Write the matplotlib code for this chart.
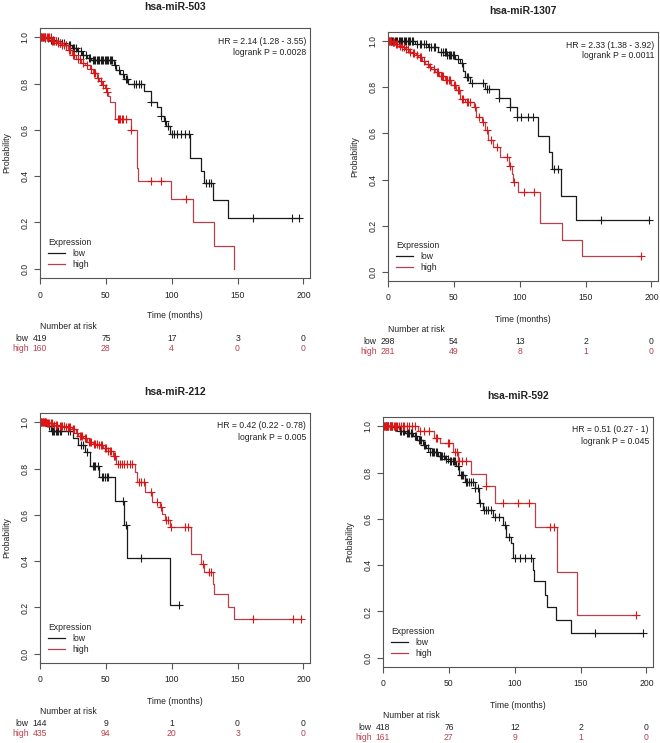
import numpy as np
import matplotlib.pyplot as plt
from matplotlib.transforms import blended_transform_factory

plt.rcParams['font.family'] = ['Liberation Sans', 'DejaVu Sans']

# ---- data: event times, survival after each event, censor times
p1_low_t = [3, 7, 11, 15, 19, 24, 28, 32, 36, 39, 56, 58, 61, 64, 67, 79, 84, 89, 92, 94, 96, 99, 114, 122, 124.5, 131.5, 143]
p1_low_s = [0.995, 0.99, 0.985, 0.975, 0.965, 0.955, 0.94, 0.925, 0.91, 0.90, 0.88, 0.86, 0.84, 0.82, 0.80, 0.77, 0.72, 0.70, 0.66, 0.64, 0.615, 0.58, 0.48, 0.424, 0.37, 0.295, 0.22]
p1_low_c = [4, 6, 8, 10, 12, 14, 15, 17, 18, 20, 22, 23, 25, 26, 27, 29, 31, 33, 35, 37, 38, 40, 41, 42, 43, 44, 45, 46, 47, 48, 49,
            50, 51, 52, 53, 54, 55, 57, 60, 63, 65, 66, 71, 73, 75, 77, 84, 92, 95, 97, 100, 102, 104, 107, 110, 113, 126, 128, 130,
            161.5, 191.5, 197]
p1_high_t = [8.6, 13, 16, 21, 24, 27, 31, 34, 38, 40, 43, 45, 47, 49, 50.5, 52, 53, 57, 69, 73.5, 74.5, 99.4, 116, 132, 147]
p1_high_s = [0.985, 0.975, 0.965, 0.945, 0.925, 0.905, 0.89, 0.88, 0.865, 0.845, 0.825, 0.81, 0.795, 0.78, 0.765, 0.745, 0.72,
             0.645, 0.60, 0.435, 0.378, 0.303, 0.203, 0.10, 0.0]
p1_high_c = [0.5, 1, 1.5, 2, 2.5, 3, 3.5, 4, 5, 6, 7, 8, 9, 10, 11, 12, 14, 15, 17, 18, 20, 22, 23, 25, 26, 29, 30, 33, 36, 39, 41,
             42, 44, 46, 48, 50, 51, 59, 60, 61, 62, 63, 65, 69, 84, 92, 111]

p2_low_t = [20.5, 30.7, 38, 45, 51, 55, 57, 58.6, 62, 74, 84, 93, 98, 114, 122, 124.5, 131, 143]
p2_low_s = [0.988, 0.975, 0.955, 0.94, 0.925, 0.905, 0.87, 0.845, 0.82, 0.794, 0.753, 0.714, 0.67, 0.59, 0.52, 0.447, 0.33, 0.224]
p2_low_c = [2, 3, 4, 5, 6, 7, 8, 9, 10, 11, 12, 13, 14, 15, 16, 17, 18, 19, 22, 24, 25, 27, 29, 31, 33, 35, 36, 40, 42, 43, 44,
            45, 46, 47, 48, 49, 50, 53, 56, 60, 61, 64, 72, 75, 77, 84, 93, 98, 101, 106, 110, 126, 129, 162, 198]
p2_high_t = [3, 5, 8, 10, 13, 16, 18, 21, 23, 26, 28, 31, 33, 36, 39, 43, 48, 52, 55, 58.5, 65, 67, 71, 74, 76, 80, 85, 91.5, 94,
             95, 99, 115.6, 132, 147]
p2_high_s = [0.995, 0.99, 0.98, 0.975, 0.965, 0.955, 0.95, 0.94, 0.93, 0.915, 0.90, 0.89, 0.88, 0.866, 0.85, 0.83, 0.81, 0.79,
             0.75, 0.736, 0.714, 0.67, 0.65, 0.613, 0.57, 0.54, 0.50, 0.46, 0.426, 0.39, 0.346, 0.21, 0.137, 0.07]
p2_high_c = [0.5, 1, 1.5, 2, 2.5, 3.5, 4, 4.5, 6, 7, 9, 11, 12, 14, 15, 17, 19, 20, 22, 24, 25, 27, 30, 32, 35, 37, 38, 40, 41,
             42, 44, 45, 46, 47, 50, 51, 53, 54, 56, 57, 60, 61, 62, 66, 69, 72, 75, 78, 83, 90, 93, 96, 103, 111, 192]

p3_low_t = [6, 8.6, 25, 29, 34, 38, 45, 57, 64, 66.4, 99]
p3_low_s = [0.986, 0.964, 0.93, 0.90, 0.87, 0.81, 0.763, 0.662, 0.555, 0.415, 0.21]
p3_low_c = [7, 8, 9, 10, 11, 12, 13, 14, 15, 16, 21, 23, 31, 33, 36, 40, 41, 42, 44, 47, 48, 49, 51, 52, 63, 65.5, 76.5, 105.5]
p3_high_t = [5, 10, 14, 19, 24, 27, 29, 33, 36, 40, 44, 48, 51.7, 55.5, 58, 72, 74, 80, 85, 91, 93, 95, 99, 115, 122, 124.5,
             131.5, 132, 143, 147]
p3_high_s = [0.995, 0.99, 0.985, 0.98, 0.97, 0.955, 0.94, 0.93, 0.914, 0.905, 0.90, 0.89, 0.878, 0.856, 0.82, 0.785, 0.74, 0.70,
             0.655, 0.634, 0.605, 0.576, 0.547, 0.432, 0.389, 0.353, 0.30, 0.256, 0.203, 0.15]
p3_high_c = [0.5, 1, 1.5, 2, 2.5, 3, 3.5, 4, 4.5, 5.5, 6, 7, 8, 9, 11, 12, 13, 15, 16, 17, 18, 20, 21, 22, 23, 25, 26, 28, 30, 31,
             32, 34, 35, 37, 38, 39, 41, 42, 43, 45, 46, 47, 49, 50, 52, 53, 54, 56, 57, 59, 61, 62, 64, 66, 68, 70, 75, 77, 79,
             84, 89, 92, 96, 97, 99.5, 110, 112, 124, 128, 130, 161.5, 192, 198]

p4_low_t = [8, 12.7, 17, 23, 26, 30, 33, 35.5, 42, 47, 50.6, 55.7, 58, 62, 69.6, 73, 76, 83.5, 91, 93.7, 97.5, 98.7, 114, 115,
            123, 124.6, 131, 143]
p4_low_s = [0.995, 0.98, 0.97, 0.957, 0.94, 0.92, 0.905, 0.89, 0.873, 0.86, 0.848, 0.827, 0.79, 0.76, 0.733, 0.668, 0.64, 0.61,
            0.574, 0.523, 0.494, 0.43, 0.379, 0.332, 0.27, 0.22, 0.162, 0.107]
p4_low_c = [2, 3, 4, 5, 6, 7, 9, 10, 11, 13, 14, 15, 16, 18, 19, 20, 21, 22, 24, 25, 27, 28, 29, 31, 32, 34, 36, 37, 38, 39, 40,
            41, 43, 44, 45, 46, 48, 49, 51, 52, 53, 54, 55, 57, 59, 60, 61, 63, 64, 65, 67, 68, 70, 72, 74, 77, 78, 80, 82, 85,
            88, 93, 96, 100, 104, 108, 112, 161, 197.5]
p4_high_t = [26.6, 39, 43, 53, 57, 67, 78.5, 85, 115.7, 132, 147]
p4_high_s = [0.978, 0.95, 0.928, 0.89, 0.848, 0.795, 0.74, 0.67, 0.564, 0.371, 0.184]
p4_high_c = [0.5, 1, 1.5, 2, 2.5, 3, 4, 5, 6, 7, 8, 9, 10, 11, 12, 14, 15, 16, 18, 20, 22, 24, 28, 31, 35, 40, 41, 49, 50, 55,
             56, 58, 60, 63, 78.5, 91, 102.5, 111, 126.5, 129.5, 192]

titles = ['hsa-miR-503', 'hsa-miR-1307', 'hsa-miR-212', 'hsa-miR-592']
hr_text = ['HR = 2.14 (1.28 - 3.55)', 'HR = 2.33 (1.38 - 3.92)', 'HR = 0.42 (0.22 - 0.78)', 'HR = 0.51 (0.27 - 1)']
p_text = ['logrank P = 0.0028', 'logrank P = 0.0011', 'logrank P = 0.005', 'logrank P = 0.045']
risk_times = [0, 50, 100, 150, 200]
risk_low = [[419, 75, 17, 3, 0], [298, 54, 13, 2, 0], [144, 9, 1, 0, 0], [418, 76, 12, 2, 0]]
risk_high = [[160, 28, 4, 0, 0], [281, 49, 8, 1, 0], [435, 94, 20, 3, 0], [161, 27, 9, 1, 0]]

curves = [
    (p1_low_t, p1_low_s, p1_low_c, p1_high_t, p1_high_s, p1_high_c),
    (p2_low_t, p2_low_s, p2_low_c, p2_high_t, p2_high_s, p2_high_c),
    (p3_low_t, p3_low_s, p3_low_c, p3_high_t, p3_high_s, p3_high_c),
    (p4_low_t, p4_low_s, p4_low_c, p4_high_t, p4_high_s, p4_high_c),
]

# panel boxes in pixels: left, right, top, bottom
boxes = [(40, 310, 28, 278), (388, 658, 32, 281), (40, 310, 413, 663), (383, 653, 417, 667)]

W, H = 660, 743
FS = 6.2
LOWC = '#1a1a1a'
HIGHC = '#b8404c'
CENSC = '#dd1515'
TXT = '#222222'

fig = plt.figure(figsize=(6.6, 7.43), dpi=100)


def km(ax, t, s, c, col, mcol, lab):
    t = np.array(t, float)
    s = np.array(s, float)
    c = np.array(c, float)
    tend = max(t[-1], c.max() if len(c) else 0)
    xs = np.r_[0, t, tend]
    ys = np.r_[1, s, s[-1]]
    ln, = ax.step(xs, ys, where='post', color=col, lw=0.9, label=lab)
    full = np.r_[1, s]
    cy = full[np.searchsorted(t, c, side='right')]
    ax.plot(c, cy, '+', color=mcol, ms=5.5, mew=0.8)
    return ln


for i, (l, r, tp, b) in enumerate(boxes):
    ax = fig.add_axes([l / W, 1 - b / H, (r - l) / W, (b - tp) / H])
    lt, ls, lc, ht, hs, hc = curves[i]
    h1 = km(ax, lt, ls, lc, LOWC, LOWC, 'low')
    h2 = km(ax, ht, hs, hc, HIGHC, CENSC, 'high')
    ax.set_xlim(0, 205)
    ax.set_ylim(-0.04, 1.04)
    ax.set_xticks(risk_times)
    ax.set_yticks([0, 0.2, 0.4, 0.6, 0.8, 1.0])
    ax.set_yticklabels(['0.0', '0.2', '0.4', '0.6', '0.8', '1.0'], rotation=90, va='center')
    ax.tick_params(direction='out', length=4, width=0.8, color='#555555', labelcolor=TXT, labelsize=FS)
    ax.tick_params(axis='x', pad=5)
    ax.tick_params(axis='y', pad=3.5)
    for sp in ax.spines.values():
        sp.set_color('#555555')
        sp.set_linewidth(0.8)

    cx = (l + r) / 2 / W
    fig.text(cx, 1 - (tp - 21) / H, titles[i], ha='center', va='center', fontsize=7.5, fontweight='bold', color=TXT)
    fig.text(cx, 1 - (b + 38) / H, 'Time (months)', ha='center', va='center', fontsize=FS, color=TXT)
    fig.text((l - 33) / W, 1 - (tp + b) / 2 / H, 'Probability', ha='center', va='center', rotation=90,
             fontsize=FS, color=TXT)

    ax.text(0.985, 1 - 13 / (b - tp), hr_text[i], transform=ax.transAxes, ha='right', va='center',
            fontsize=FS, color=TXT)
    ax.text(0.985, 1 - 24 / (b - tp), p_text[i], transform=ax.transAxes, ha='right', va='center',
            fontsize=FS, color=TXT)

    leg = ax.legend(handles=[h1, h2], loc='lower left', bbox_to_anchor=(0.005, 0.01), frameon=False,
                    title='Expression', fontsize=FS, title_fontsize=FS, handlelength=2.0,
                    handletextpad=0.8, labelspacing=0.22, alignment='left', borderpad=0.3)
    leg.get_title().set_color(TXT)
    for tx in leg.get_texts():
        tx.set_color(TXT)

    tr = blended_transform_factory(ax.transData, fig.transFigure)
    ax.text(0, 1 - (b + 49) / H, 'Number at risk', transform=tr, ha='left', va='center', fontsize=FS, color=TXT)
    ax.text(-8.5, 1 - (b + 60) / H, 'low', transform=tr, ha='right', va='center', fontsize=FS, color=TXT)
    ax.text(-8.5, 1 - (b + 70) / H, 'high', transform=tr, ha='right', va='center', fontsize=FS, color=HIGHC)
    for k, x in enumerate(risk_times):
        ax.text(x, 1 - (b + 60) / H, str(risk_low[i][k]), transform=tr, ha='center', va='center',
                fontsize=FS, color=TXT)
        ax.text(x, 1 - (b + 70) / H, str(risk_high[i][k]), transform=tr, ha='center', va='center',
                fontsize=FS, color=HIGHC)

fig.savefig('out.png', dpi=100)
